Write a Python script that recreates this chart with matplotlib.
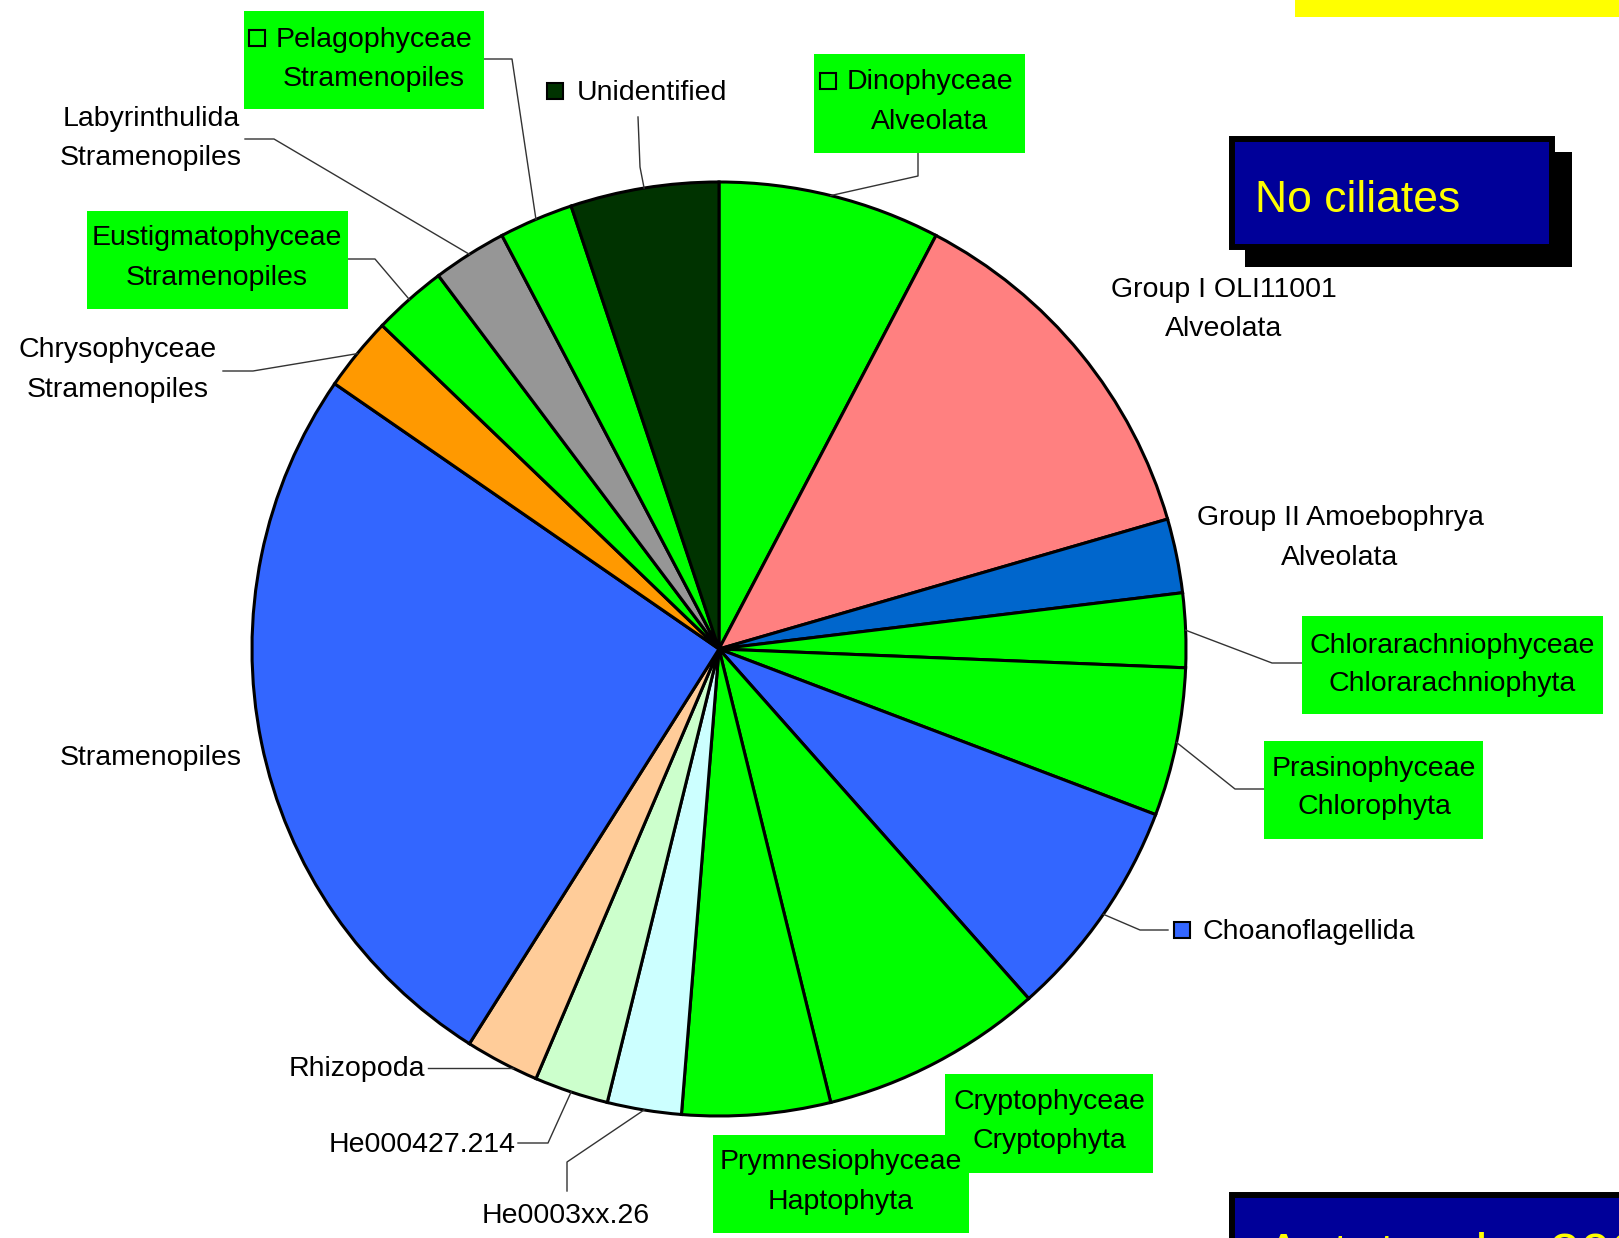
"""Pie chart of clone library composition (no ciliates)."""

import matplotlib
matplotlib.use('Agg')
import matplotlib.pyplot as plt
from matplotlib.patches import Rectangle
import numpy as np

plt.rcParams['font.family'] = ['Liberation Sans', 'DejaVu Sans']

# Data: clone counts per group, clockwise from 12 o'clock
groups = [
    'Dinophyceae\nAlveolata',
    'Group I OLI11001\nAlveolata',
    'Group II Amoebophrya\nAlveolata',
    'Chlorarachniophyceae\nChlorarachniophyta',
    'Prasinophyceae\nChlorophyta',
    'Choanoflagellida',
    'Cryptophyceae\nCryptophyta',
    'Prymnesiophyceae\nHaptophyta',
    'He0003xx.26',
    'He000427.214',
    'Rhizopoda',
    'Stramenopiles',
    'Chrysophyceae\nStramenopiles',
    'Eustigmatophyceae\nStramenopiles',
    'Labyrinthulida\nStramenopiles',
    'Pelagophyceae\nStramenopiles',
    'Unidentified',
]
counts = [3, 5, 1, 1, 2, 3, 3, 2, 1, 1, 1, 10, 1, 1, 1, 1, 2]
colors = ['#00FF00', '#FF8080', '#0066CC', '#00FF00', '#00FF00', '#3366FF',
          '#00FF00', '#00FF00', '#CCFFFF', '#CCFFCC', '#FFCC99', '#3366FF',
          '#FF9900', '#00FF00', '#969696', '#00FF00', '#003300']
# autotroph groups get a green label box
boxed = [True, False, False, True, True, False, True, True, False, False,
         False, False, False, True, False, True, False]
with_key = [True, False, False, False, False, True, False, False, False,
            False, False, False, False, False, False, True, True]

W, H = 1619, 1238
CX, CY, R = 719, 649, 467
DY = 3  # small baseline nudge for label text

# label layout in pixel coords (y down): line centers, box, leader elbow points
layout = {
    0: dict(x=930, ys=[79, 119], box=(814, 54, 1025, 153), key=(828, 81),
            lead=[(918, 153), (918, 176)]),
    1: dict(x=1224, ys=[287, 326]),
    2: dict(x=1340, ys=[515, 555]),
    3: dict(x=1452, ys=[643, 681], box=(1302, 616, 1603, 714),
            lead=[(1302, 663), (1272, 663)]),
    4: dict(x=1374, ys=[766, 804], box=(1264, 741, 1483, 839),
            lead=[(1264, 789), (1235, 789)]),
    5: dict(x=1202, ys=[929], ha='left', key=(1182, 930),
            lead=[(1168, 930), (1140, 930)]),
    6: dict(x=1049, ys=[1099, 1138], box=(945, 1074, 1153, 1173)),
    7: dict(x=841, ys=[1159, 1199], box=(713, 1135, 969, 1233)),
    8: dict(x=566, ys=[1213], lead=[(567, 1191), (567, 1162)]),
    9: dict(x=422, ys=[1142], lead=[(518, 1143), (548, 1143)]),
    10: dict(x=357, ys=[1066], lead=[(428, 1068)], flat=True),
    11: dict(x=151, ys=[755]),
    12: dict(x=118, ys=[347, 387], lead=[(223, 371), (253, 371)]),
    13: dict(x=217, ys=[235, 275], box=(87, 211, 348, 309),
             lead=[(348, 259), (375, 259)]),
    14: dict(x=151, ys=[116, 155], lead=[(245, 139), (274, 139)]),
    15: dict(x=374, ys=[37, 76], box=(244, 11, 484, 109), key=(257, 38),
             lead=[(484, 59), (512, 59)]),
    16: dict(x=577, ys=[90], ha='left', key=(555, 91),
             lead=[(638, 117), (640, 167)]),
}

fig = plt.figure(figsize=(W / 100, H / 100), dpi=100)
ax = fig.add_axes([0, 0, 1, 1])

wedges, _ = ax.pie(counts, colors=colors, startangle=90, counterclock=False,
                   center=(CX, H - CY), radius=R,
                   wedgeprops=dict(edgecolor='black', linewidth=2.2))
ax.set_xlim(0, W)
ax.set_ylim(0, H)
ax.set_aspect('auto')
ax.axis('off')

for i, (name, w) in enumerate(zip(groups, wedges)):
    spec = layout[i]
    # leader line from label to the middle of the wedge rim
    if 'lead' in spec:
        pts = [(x, H - y) for x, y in spec['lead']]
        if spec.get('flat'):
            dy = pts[-1][1] - (H - CY)
            rim = (CX - np.sqrt(R ** 2 - dy ** 2), pts[-1][1])
        else:
            mid = np.deg2rad((w.theta1 + w.theta2) / 2)
            rim = (CX + R * np.cos(mid), H - CY + R * np.sin(mid))
        xs, ys = zip(*(pts + [rim]))
        ax.plot(xs, ys, color='#333333', linewidth=1, zorder=1)
    if boxed[i]:
        x0, y0, x1, y1 = spec['box']
        ax.add_patch(Rectangle((x0, H - y1), x1 - x0, y1 - y0,
                               facecolor='#00FF00', edgecolor='none', zorder=3))
    if with_key[i]:
        kx, ky = spec['key']
        ax.add_patch(Rectangle((kx - 8, H - ky - 8), 16, 16, facecolor=colors[i],
                               edgecolor='black', linewidth=1.5, zorder=4))
    for line, y in zip(name.split('\n'), spec['ys']):
        ax.text(spec['x'], H - y - DY, line, fontsize=20.5,
                ha=spec.get('ha', 'center'), va='center', color='black', zorder=5)

# annotation panels
ax.add_patch(Rectangle((1245, H - 267), 327, 115, facecolor='black',
                       edgecolor='none', zorder=2))
ax.add_patch(Rectangle((1232, H - 247), 320, 108, facecolor='#000099',
                       edgecolor='black', linewidth=4.3, zorder=3))
ax.text(1255, H - 200, 'No ciliates', fontsize=32, color='#FFFF00',
        ha='left', va='center', zorder=4)

ax.add_patch(Rectangle((1295, H - 17), 330, 30, facecolor='#FFFF00',
                       edgecolor='none', zorder=2))

ax.add_patch(Rectangle((1232, H - 1300), 420, 105, facecolor='#000099',
                       edgecolor='black', linewidth=4.3, zorder=3))
ax.text(1265, H - 1272, 'Autotrophs 2003', fontsize=40, color='#FFFF00',
        ha='left', va='baseline', zorder=4)

fig.savefig('out.png', dpi=100)
plt.close(fig)
